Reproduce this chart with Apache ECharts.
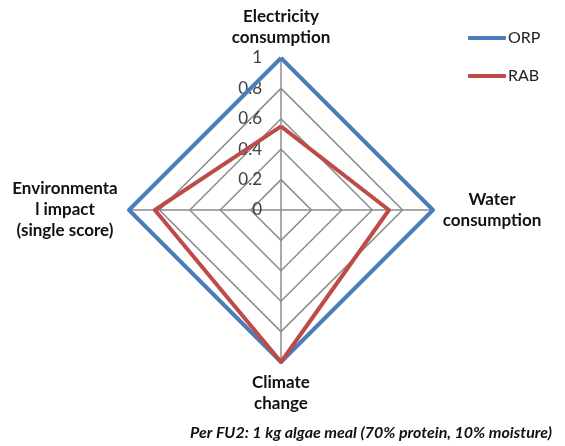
<!DOCTYPE html>
<html>
<head>
<meta charset="utf-8">
<script src="https://cdn.jsdelivr.net/npm/echarts@6/dist/echarts.min.js"></script>
<style>
  html, body { margin: 0; padding: 0; background: #fff; }
  #main { width: 565px; height: 446px; }
</style>
</head>
<body>
<div id="main"></div>
<script>
// indicators in echarts order (counter-clockwise from top)
var indicators = ['Electricity\nconsumption', 'Environmenta\nl impact\n(single score)', 'Climate\nchange', 'Water\nconsumption'];
var seriesNames = ['ORP', 'RAB'];
var orpValues = [1, 1, 1, 1];
var rabValues = [0.55, 0.83, 1, 0.71];
var ringMax = 1;

var myChart = echarts.init(document.getElementById('main'));

var nameFont = 'Lato';

// rich style key per indicator so every line is centred inside its block
var nameStyleKey = ['c', 'l', 'c', 'r'];

var option = {
  animation: false,
  legend: {
    orient: 'vertical',
    left: 463,
    top: 25,
    itemGap: 22,
    itemWidth: 38,
    itemHeight: 4,
    icon: 'roundRect',
    data: seriesNames,
    textStyle: { fontFamily: nameFont, fontSize: 16, color: '#222', padding: [0, 0, 0, -3] }
  },
  title: {
    text: 'Per FU2: 1 kg algae meal (70% protein, 10% moisture)',
    right: 8,
    bottom: 0,
    textStyle: { fontFamily: nameFont, fontSize: 16, fontStyle: 'italic', fontWeight: 'bold', color: '#111' }
  },
  radar: {
    center: [281, 210],
    radius: 152,
    shape: 'polygon',
    splitNumber: 5,
    indicator: indicators.map(function (n, i) {
      var ind = { name: n, min: 0, max: ringMax };
      if (i === 0) {
        ind.axisLabel = {
          show: true,
          fontFamily: nameFont,
          fontSize: 17,
          color: '#404040',
          margin: 19,
          formatter: function (v) { return String(+v.toFixed(1)); }
        };
      }
      return ind;
    }),
    axisName: {
      color: '#111',
      fontFamily: nameFont,
      fontSize: 17,
      fontWeight: 'bold',
      lineHeight: 21,
      formatter: function (name) {
        var k = nameStyleKey[indicators.indexOf(name)] || 'c';
        return name.split('\n').map(function (s) { return '{' + k + '|' + s + '}'; }).join('\n');
      },
      rich: {
        c: { fontFamily: nameFont, fontSize: 17, fontWeight: 'bold', color: '#111', lineHeight: 21, align: 'center' },
        l: { fontFamily: nameFont, fontSize: 17, fontWeight: 'bold', color: '#111', lineHeight: 21, align: 'center', width: 108 },
        r: { fontFamily: nameFont, fontSize: 17, fontWeight: 'bold', color: '#111', lineHeight: 21, align: 'center', width: 98 }
      }
    },
    nameGap: 10,
    splitArea: { show: false },
    splitLine: { lineStyle: { color: '#8c8c8c', width: 1.5 } },
    axisLine: { lineStyle: { color: '#8c8c8c', width: 1.5 } },
    axisLabel: { show: false }
  },
  series: [{
    type: 'radar',
    symbol: 'none',
    data: [
      { name: seriesNames[0], value: orpValues, lineStyle: { color: '#4a7ebb', width: 4 }, itemStyle: { color: '#4a7ebb' } },
      { name: seriesNames[1], value: rabValues, lineStyle: { color: '#be4b48', width: 4 }, itemStyle: { color: '#be4b48' } }
    ]
  }]
};

myChart.setOption(option);
window.addEventListener('resize', function () {
  myChart.resize();
});
</script>
</body>
</html>
